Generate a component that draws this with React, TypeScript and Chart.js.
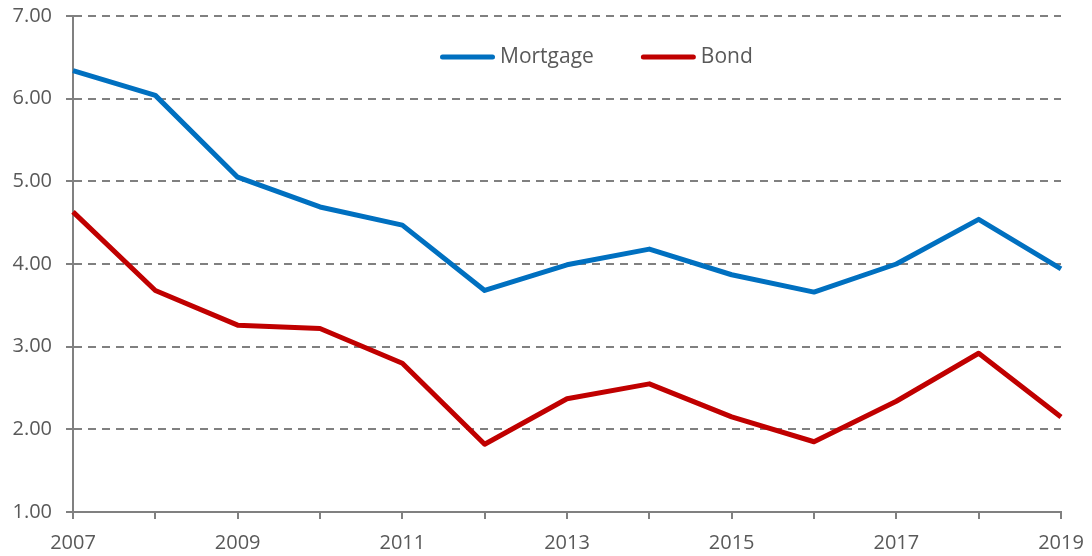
import React, { useEffect, useRef } from 'react';
import { Chart, registerables } from 'chart.js';

Chart.register(...registerables);

const years = ['2007', '2008', '2009', '2010', '2011', '2012', '2013', '2014', '2015', '2016', '2017', '2018', '2019'];
const mortgage = [6.34, 6.04, 5.05, 4.69, 4.47, 3.68, 3.99, 4.18, 3.87, 3.66, 4.0, 4.54, 3.94];
const bond = [4.63, 3.68, 3.26, 3.22, 2.8, 1.82, 2.37, 2.55, 2.15, 1.85, 2.34, 2.92, 2.15];
const yMin = 1;
const yMax = 7;
const yStep = 1;

const TEXT = '#595959';
const GRID = '#808080';
const FONT = '"Open Sans"';

const insideLegend = {
  id: 'insideLegend',
  afterDraw(chart: any) {
    const ctx = chart.ctx;
    const area = chart.chartArea;
    ctx.save();
    ctx.font = `21px ${FONT}`;
    ctx.textBaseline = 'middle';
    ctx.textAlign = 'left';
    let x = area.left + 367;
    const y = area.top + 41;
    chart.data.datasets.forEach((ds: any) => {
      ctx.strokeStyle = ds.borderColor;
      ctx.lineWidth = 5;
      ctx.lineCap = 'round';
      ctx.beginPath();
      ctx.moveTo(x + 2.5, y);
      ctx.lineTo(x + 52.5, y);
      ctx.stroke();
      ctx.fillStyle = TEXT;
      ctx.fillText(ds.label, x + 60, y);
      x += 60 + ctx.measureText(ds.label).width + 47;
    });
    ctx.restore();
  },
};

export default function App() {
  const ref = useRef<HTMLCanvasElement | null>(null);
  useEffect(() => {
    if (!ref.current) return;
    const chart = new Chart(ref.current, {
      type: 'line',
      data: {
        labels: years,
        datasets: [
          {
            label: 'Mortgage',
            data: mortgage,
            borderColor: '#0070C0',
            backgroundColor: '#0070C0',
            borderWidth: 5,
            pointRadius: 0,
            tension: 0,
            borderJoinStyle: 'round',
          },
          {
            label: 'Bond',
            data: bond,
            borderColor: '#C00000',
            backgroundColor: '#C00000',
            borderWidth: 5,
            pointRadius: 0,
            tension: 0,
            borderJoinStyle: 'round',
          },
        ],
      },
      options: {
        responsive: false,
        animation: false,
        layout: { padding: { top: 16, right: 31, left: 0, bottom: 0 } },
        plugins: {
          legend: { display: false },
          tooltip: { enabled: false },
          title: { display: false },
        },
        scales: {
          x: {
            type: 'category',
            offset: false,
            grid: { drawOnChartArea: false, color: GRID, lineWidth: 2, tickLength: 7 },
            border: { color: GRID, width: 2 },
            ticks: {
              autoSkip: false,
              maxRotation: 0,
              minRotation: 0,
              padding: 12,
              color: TEXT,
              font: { family: FONT, size: 20 },
              callback: (_v: any, i: number) => (i % 2 === 0 ? years[i] : ''),
            },
            afterFit: (s: any) => {
              s.height = 44;
              s.paddingLeft = 0;
              s.paddingRight = 0;
            },
          },
          y: {
            min: yMin,
            max: yMax,
            grid: { color: GRID, lineWidth: 2, tickLength: 7, tickColor: GRID },
            border: { color: GRID, width: 2, dash: [8, 6] },
            ticks: {
              stepSize: yStep,
              padding: 14,
              color: TEXT,
              font: { family: FONT, size: 20 },
              callback: (v: any) => Number(v).toFixed(2),
            },
            afterFit: (s: any) => {
              s.width = 73;
              s.paddingTop = 0;
              s.paddingBottom = 0;
            },
          },
        },
      },
      plugins: [insideLegend],
    });
    return () => chart.destroy();
  }, []);
  return (
    <div style={{ position: 'absolute', left: 0, top: 0, width: 1092, height: 556 }}>
      <canvas ref={ref} width={1092} height={556} style={{ display: 'block' }} />
    </div>
  );
}
